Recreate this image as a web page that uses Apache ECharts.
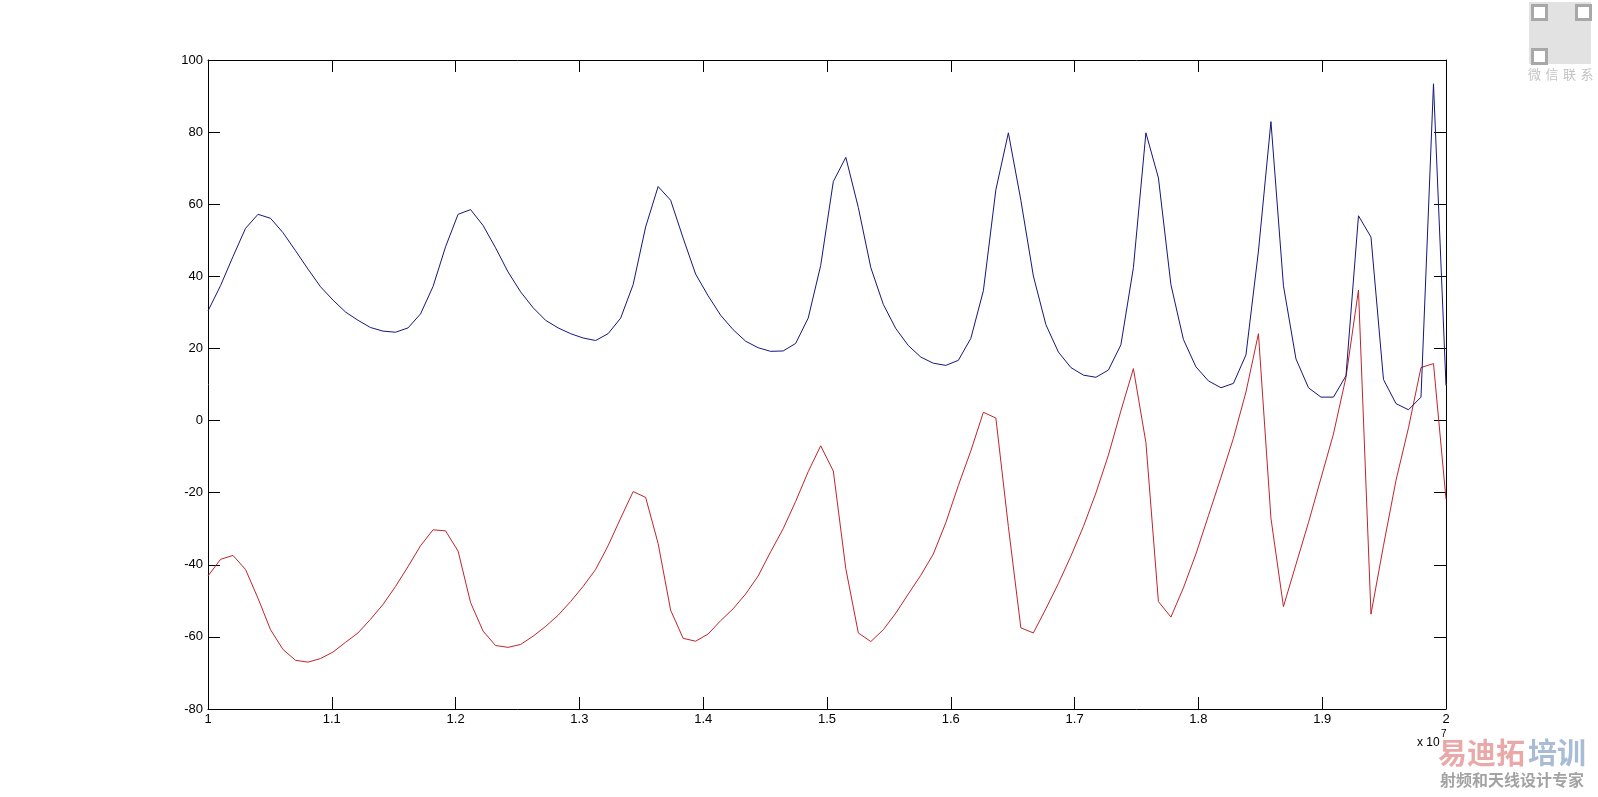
<!DOCTYPE html>
<html>
<head>
<meta charset="utf-8">
<script src="https://cdn.jsdelivr.net/npm/echarts@6/dist/echarts.min.js"></script>
<style>
  html, body { margin: 0; padding: 0; background: #ffffff; }
  #chart { width: 1598px; height: 797px; }
</style>
</head>
<body>
<div id="chart"></div>
<script>
// Frequency samples (units of 1e7), 100 points from 1 to 2
const xValues = [
  1.0000, 1.0101, 1.0202, 1.0303, 1.0404, 1.0505, 1.0606, 1.0707, 1.0808, 1.0909,
  1.1010, 1.1111, 1.1212, 1.1313, 1.1414, 1.1515, 1.1616, 1.1717, 1.1818, 1.1919,
  1.2020, 1.2121, 1.2222, 1.2323, 1.2424, 1.2525, 1.2626, 1.2727, 1.2828, 1.2929,
  1.3030, 1.3131, 1.3232, 1.3333, 1.3434, 1.3535, 1.3636, 1.3737, 1.3838, 1.3939,
  1.4040, 1.4141, 1.4242, 1.4343, 1.4444, 1.4545, 1.4646, 1.4747, 1.4848, 1.4949,
  1.5051, 1.5152, 1.5253, 1.5354, 1.5455, 1.5556, 1.5657, 1.5758, 1.5859, 1.5960,
  1.6061, 1.6162, 1.6263, 1.6364, 1.6465, 1.6566, 1.6667, 1.6768, 1.6869, 1.6970,
  1.7071, 1.7172, 1.7273, 1.7374, 1.7475, 1.7576, 1.7677, 1.7778, 1.7879, 1.7980,
  1.8081, 1.8182, 1.8283, 1.8384, 1.8485, 1.8586, 1.8687, 1.8788, 1.8889, 1.8990,
  1.9091, 1.9192, 1.9293, 1.9394, 1.9495, 1.9596, 1.9697, 1.9798, 1.9899, 2.0000
];

const blueValues = [
  30.4, 37.4, 45.5, 53.3, 57.2, 56.1, 52.1, 47.1, 42.0, 37.1,
  33.4, 30.1, 27.8, 25.8, 24.8, 24.5, 25.7, 29.6, 37.2, 48.2,
  57.2, 58.5, 54.1, 47.9, 41.2, 35.7, 31.3, 27.8, 25.7, 24.1,
  22.9, 22.2, 24.1, 28.4, 37.7, 53.7, 64.9, 61.1, 50.6, 40.6,
  34.6, 29.2, 25.2, 22.0, 20.2, 19.2, 19.3, 21.4, 28.4, 43.0,
  66.3, 73.0, 59.1, 42.4, 32.2, 25.5, 20.8, 17.6, 15.9, 15.3,
  16.7, 22.8, 36.0, 64.0, 79.8, 61.1, 40.1, 26.6, 19.0, 14.7,
  12.6, 12.0, 14.0, 21.0, 42.4, 79.8, 67.3, 37.7, 22.5, 14.9,
  11.0, 9.1, 10.3, 18.2, 47.0, 82.9, 37.4, 17.1, 9.1, 6.5,
  6.5, 12.4, 56.8, 50.9, 11.4, 4.7, 3.0, 6.5, 93.4, 9.7
];

const redValues = [
  -43.1, -38.5, -37.4, -41.3, -49.3, -58.0, -63.5, -66.5, -67.0, -66.0,
  -64.2, -61.5, -58.9, -55.1, -51.0, -46.0, -40.5, -34.7, -30.3, -30.6,
  -36.2, -50.5, -58.4, -62.4, -62.9, -62.1, -59.8, -57.1, -54.0, -50.2,
  -46.0, -41.3, -34.7, -27.1, -19.7, -21.3, -34.1, -52.6, -60.4, -61.2,
  -59.2, -55.5, -52.2, -48.1, -43.1, -36.4, -30.0, -22.4, -14.2, -7.0,
  -14.0, -41.1, -58.9, -61.3, -58.0, -53.4, -48.1, -42.9, -37.0, -28.3,
  -18.0, -8.4, 2.3, 0.7, -29.4, -57.5, -58.9, -52.2, -45.2, -37.6,
  -29.4, -20.1, -9.6, 2.7, 14.4, -6.1, -50.2, -54.5, -46.4, -37.0,
  -26.4, -15.8, -4.9, 7.9, 24.1, -27.1, -51.6, -39.9, -28.3, -16.0,
  -3.7, 12.0, 36.2, -53.7, -34.7, -16.6, -2.0, 14.7, 15.8, -21.8
];

const xTickLabels = ['1', '1.1', '1.2', '1.3', '1.4', '1.5', '1.6', '1.7', '1.8', '1.9', '2'];
const yTickLabels = ['-80', '-60', '-40', '-20', '0', '20', '40', '60', '80', '100'];
const exponentLabel = 'x 10';
const exponentPower = '7';
const watermarkA = '易迪拓';
const watermarkB = '培训';
const watermarkSub = '射频和天线设计专家';
const wechatChars = ['微', '信', '联', '系'];

const FONT = 'Liberation Sans, Arial, Helvetica, sans-serif';
const CJK = 'Noto Sans CJK SC, sans-serif';

const pair = (xs, ys) => xs.map((x, i) => [x, ys[i]]);

const chart = echarts.init(document.getElementById('chart'), null, { renderer: 'canvas' });

const tickStyle = { show: true, inside: true, length: 12, lineStyle: { color: '#000', width: 1 } };
const lineStyle = { show: true, onZero: false, lineStyle: { color: '#000', width: 1 } };

const xLabelFmt = (v) => {
  const idx = Math.round((v - 1) * 10);
  return xTickLabels[idx] !== undefined ? xTickLabels[idx] : '';
};
const yLabelFmt = (v) => {
  const idx = Math.round((v + 80) / 20);
  return yTickLabels[idx] !== undefined ? yTickLabels[idx] : '';
};

const wechatGraphics = wechatChars.map((c, i) => ({
  type: 'text', left: 1528 + i * 17.5, top: 68,
  style: { text: c, fill: '#c4c4c4', font: '13px ' + CJK }
}));

chart.setOption({
  animation: false,
  backgroundColor: '#ffffff',
  grid: { left: 208, right: 152, top: 60, bottom: 88, containLabel: false },
  xAxis: [
    {
      type: 'value', min: 1, max: 2, interval: 0.1, position: 'bottom',
      axisLine: lineStyle, axisTick: tickStyle, splitLine: { show: false },
      axisLabel: { show: true, formatter: xLabelFmt, color: '#000', fontSize: 13, fontFamily: FONT, margin: 4 }
    },
    {
      type: 'value', min: 1, max: 2, interval: 0.1, position: 'top',
      axisLine: lineStyle, axisTick: tickStyle, splitLine: { show: false },
      axisLabel: { show: false }
    }
  ],
  yAxis: [
    {
      type: 'value', min: -80, max: 100, interval: 20, position: 'left',
      axisLine: lineStyle, axisTick: tickStyle, splitLine: { show: false },
      axisLabel: { show: true, formatter: yLabelFmt, color: '#000', fontSize: 13, fontFamily: FONT, margin: 5 }
    },
    {
      type: 'value', min: -80, max: 100, interval: 20, position: 'right',
      axisLine: lineStyle, axisTick: tickStyle, splitLine: { show: false },
      axisLabel: { show: false }
    }
  ],
  series: [
    {
      type: 'line', name: 'blue', xAxisIndex: 0, yAxisIndex: 0,
      data: pair(xValues, blueValues), showSymbol: false, symbol: 'none',
      lineStyle: { color: '#16167a', width: 1 }, z: 3
    },
    {
      type: 'line', name: 'red', xAxisIndex: 0, yAxisIndex: 0,
      data: pair(xValues, redValues), showSymbol: false, symbol: 'none',
      lineStyle: { color: '#c0242b', width: 1 }, z: 2
    }
  ],
  graphic: [
    { type: 'text', left: 1417, top: 737, style: { text: exponentLabel, fill: '#000', font: '12px ' + FONT } },
    { type: 'text', left: 1441, top: 729, style: { text: exponentPower, fill: '#000', font: '10px ' + FONT } },
    { type: 'text', left: 1438, top: 738, style: { text: watermarkA, fill: '#eaa9a9', font: 'bold 29px ' + CJK } },
    { type: 'text', left: 1528, top: 738, style: { text: watermarkB, fill: '#a9bcd6', font: 'bold 29px ' + CJK } },
    { type: 'text', left: 1440, top: 772, style: { text: watermarkSub, fill: '#a3a3a3', font: 'bold 16px ' + CJK } },
    { type: 'rect', left: 1529, top: 2, shape: { width: 62, height: 62 }, style: { fill: '#e2e2e2' } },
    { type: 'rect', left: 1531, top: 4, shape: { width: 14, height: 14 }, style: { fill: '#fff', stroke: '#a8a8a8', lineWidth: 3 } },
    { type: 'rect', left: 1575, top: 4, shape: { width: 14, height: 14 }, style: { fill: '#fff', stroke: '#a8a8a8', lineWidth: 3 } },
    { type: 'rect', left: 1531, top: 48, shape: { width: 14, height: 14 }, style: { fill: '#fff', stroke: '#a8a8a8', lineWidth: 3 } }
  ].concat(wechatGraphics)
});
</script>
</body>
</html>
